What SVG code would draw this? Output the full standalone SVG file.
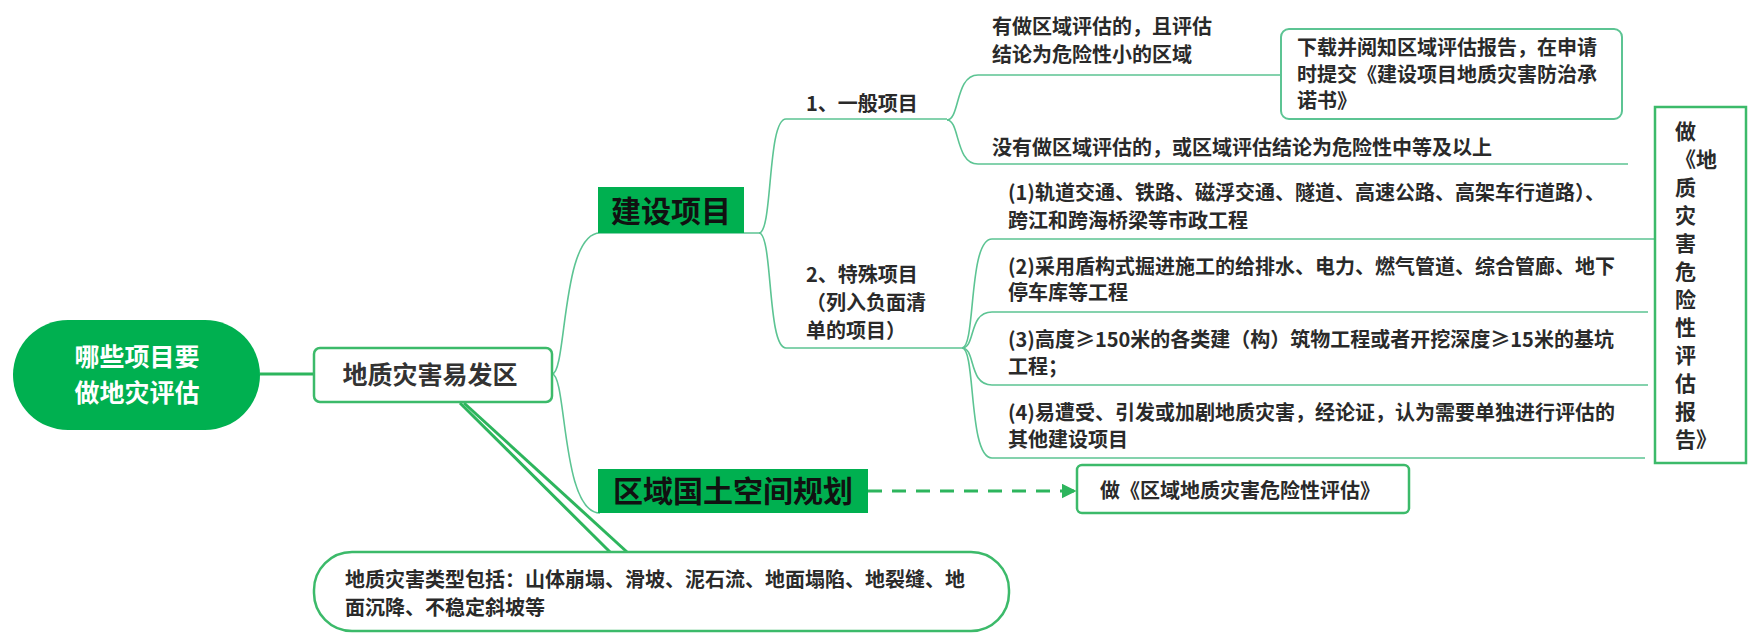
<svg xmlns="http://www.w3.org/2000/svg" width="1760" height="642" viewBox="0 0 1760 642">
<defs>
<style>
.t{font-family:"Noto Sans CJK SC","Noto Sans",sans-serif;font-size:20px;font-weight:bold;fill:#2a2a2a}
.big{font-family:"Noto Sans CJK SC","Noto Sans",sans-serif;font-size:30px;font-weight:bold;fill:#111}
.root{font-family:"Noto Sans CJK SC","Noto Sans",sans-serif;font-size:25px;font-weight:bold;fill:#fff}
.n1{font-family:"Noto Sans CJK SC","Noto Sans",sans-serif;font-size:25px;font-weight:bold;fill:#333}
.box{fill:#fff;stroke:#3cba6a;stroke-width:2.5}
.gfill{fill:#00b050}
.thin{fill:none;stroke:#5cc493;stroke-width:1.6}
.thick{fill:none;stroke:#2db55d;stroke-width:3}
</style>
<marker id="arr" viewBox="0 0 10 10" refX="9" refY="5" markerWidth="5" markerHeight="5" orient="auto" markerUnits="strokeWidth">
<path d="M0,0 L10,5 L0,10 z" fill="#2db55d"/>
</marker>
</defs>
<rect x="0" y="0" width="1760" height="642" fill="#fff"/>
<g id="connectors">
<line class="thick" x1="260" y1="374" x2="314" y2="374"/>
<path class="thin" d="M552,374 C567,374 561,233 600,233 H759"/>
<path class="thin" d="M552,374 C567,374 561,513 600,513"/>
<path class="thin" d="M759,233 C773,233 767,119 786,119 H947"/>
<path class="thin" d="M759,233 C773,233 767,348 786,348 H962"/>
<path class="thin" d="M947,120 C960,120 955,75 978,75 H1281"/>
<path class="thin" d="M947,120 C960,120 955,164 978,164 H1628"/>
<path class="thin" d="M962,348 C976,348 968,239 992,239 H1655"/>
<path class="thin" d="M962,348 C976,348 968,312 992,312 H1648"/>
<path class="thin" d="M962,348 C976,348 968,385 992,385 H1648"/>
<path class="thin" d="M962,348 C976,348 968,458 992,458 H1645"/>
<line class="thick" x1="460" y1="403" x2="610" y2="552"/>
<line class="thick" x1="464" y1="403" x2="627" y2="552"/>
<line class="thick" x1="868" y1="491" x2="1075" y2="491" stroke-dasharray="14 10" marker-end="url(#arr)"/>
</g>
<g id="root">
<rect class="gfill" x="13" y="320" width="247" height="110" rx="55"/>
<text class="root" x="137" y="366" text-anchor="middle">哪些项目要</text>
<text class="root" x="137" y="402" text-anchor="middle">做地灾评估</text>
</g>
<g id="n-zone">
<rect class="box" x="314" y="348" width="238" height="54" rx="6"/>
<text class="n1" x="430" y="384" text-anchor="middle">地质灾害易发区</text>
</g>
<g id="n-build">
<rect class="gfill" x="598" y="187" width="146" height="46"/>
<text class="big" x="671" y="222" text-anchor="middle">建设项目</text>
</g>
<g id="n-plan">
<rect class="gfill" x="598" y="469" width="270" height="44"/>
<text class="big" x="733" y="502" text-anchor="middle">区域国土空间规划</text>
</g>
<g id="n-general">
<text class="t" x="806" y="111">1、一般项目</text>
</g>
<g id="n-special">
<text class="t" x="806" y="282">2、特殊项目</text>
<text class="t" x="806" y="310">（列入负面清</text>
<text class="t" x="806" y="338">单的项目）</text>
</g>
<g id="n-small">
<text class="t" x="992" y="34">有做区域评估的，且评估</text>
<text class="t" x="992" y="62">结论为危险性小的区域</text>
</g>
<g id="n-mid">
<text class="t" x="992" y="155">没有做区域评估的，或区域评估结论为危险性中等及以上</text>
</g>
<g id="n-download">
<rect class="box" x="1281" y="29" width="341" height="90" rx="8" style="stroke:#5cc493;stroke-width:2"/>
<text class="t" x="1297" y="55">下载并阅知区域评估报告，在申请</text>
<text class="t" x="1297" y="82">时提交《建设项目地质灾害防治承</text>
<text class="t" x="1297" y="108">诺书》</text>
</g>
<g id="n-s1">
<text class="t" x="1008" y="200">(1)轨道交通、铁路、磁浮交通、隧道、高速公路、高架车行道路）、</text>
<text class="t" x="1008" y="228">跨江和跨海桥梁等市政工程</text>
</g>
<g id="n-s2">
<text class="t" x="1008" y="274">(2)采用盾构式掘进施工的给排水、电力、燃气管道、综合管廊、地下</text>
<text class="t" x="1008" y="300">停车库等工程</text>
</g>
<g id="n-s3">
<text class="t" x="1008" y="347">(3)高度≥150米的各类建（构）筑物工程或者开挖深度≥15米的基坑</text>
<text class="t" x="1008" y="374">工程；</text>
</g>
<g id="n-s4">
<text class="t" x="1008" y="420">(4)易遭受、引发或加剧地质灾害，经论证，认为需要单独进行评估的</text>
<text class="t" x="1008" y="447">其他建设项目</text>
</g>
<g id="n-report">
<rect class="box" x="1655" y="107" width="91" height="356"/>
<text class="t" style="font-size:21px">
<tspan x="1675" y="139">做</tspan>
<tspan x="1675" y="167">《地</tspan>
<tspan x="1675" y="195">质</tspan>
<tspan x="1675" y="223">灾</tspan>
<tspan x="1675" y="251">害</tspan>
<tspan x="1675" y="279">危</tspan>
<tspan x="1675" y="307">险</tspan>
<tspan x="1675" y="335">性</tspan>
<tspan x="1675" y="363">评</tspan>
<tspan x="1675" y="391">估</tspan>
<tspan x="1675" y="419">报</tspan>
<tspan x="1675" y="447">告》</tspan>
</text>
</g>
<g id="n-regional">
<rect class="box" x="1077" y="465" width="332" height="48" rx="5"/>
<text class="t" x="1100" y="498">做《区域地质灾害危险性评估》</text>
</g>
<g id="n-types">
<rect class="box" x="314" y="552" width="695" height="79" rx="38"/>
<text class="t" x="345" y="587">地质灾害类型包括：山体崩塌、滑坡、泥石流、地面塌陷、地裂缝、地</text>
<text class="t" x="345" y="615">面沉降、不稳定斜坡等</text>
</g>
</svg>
